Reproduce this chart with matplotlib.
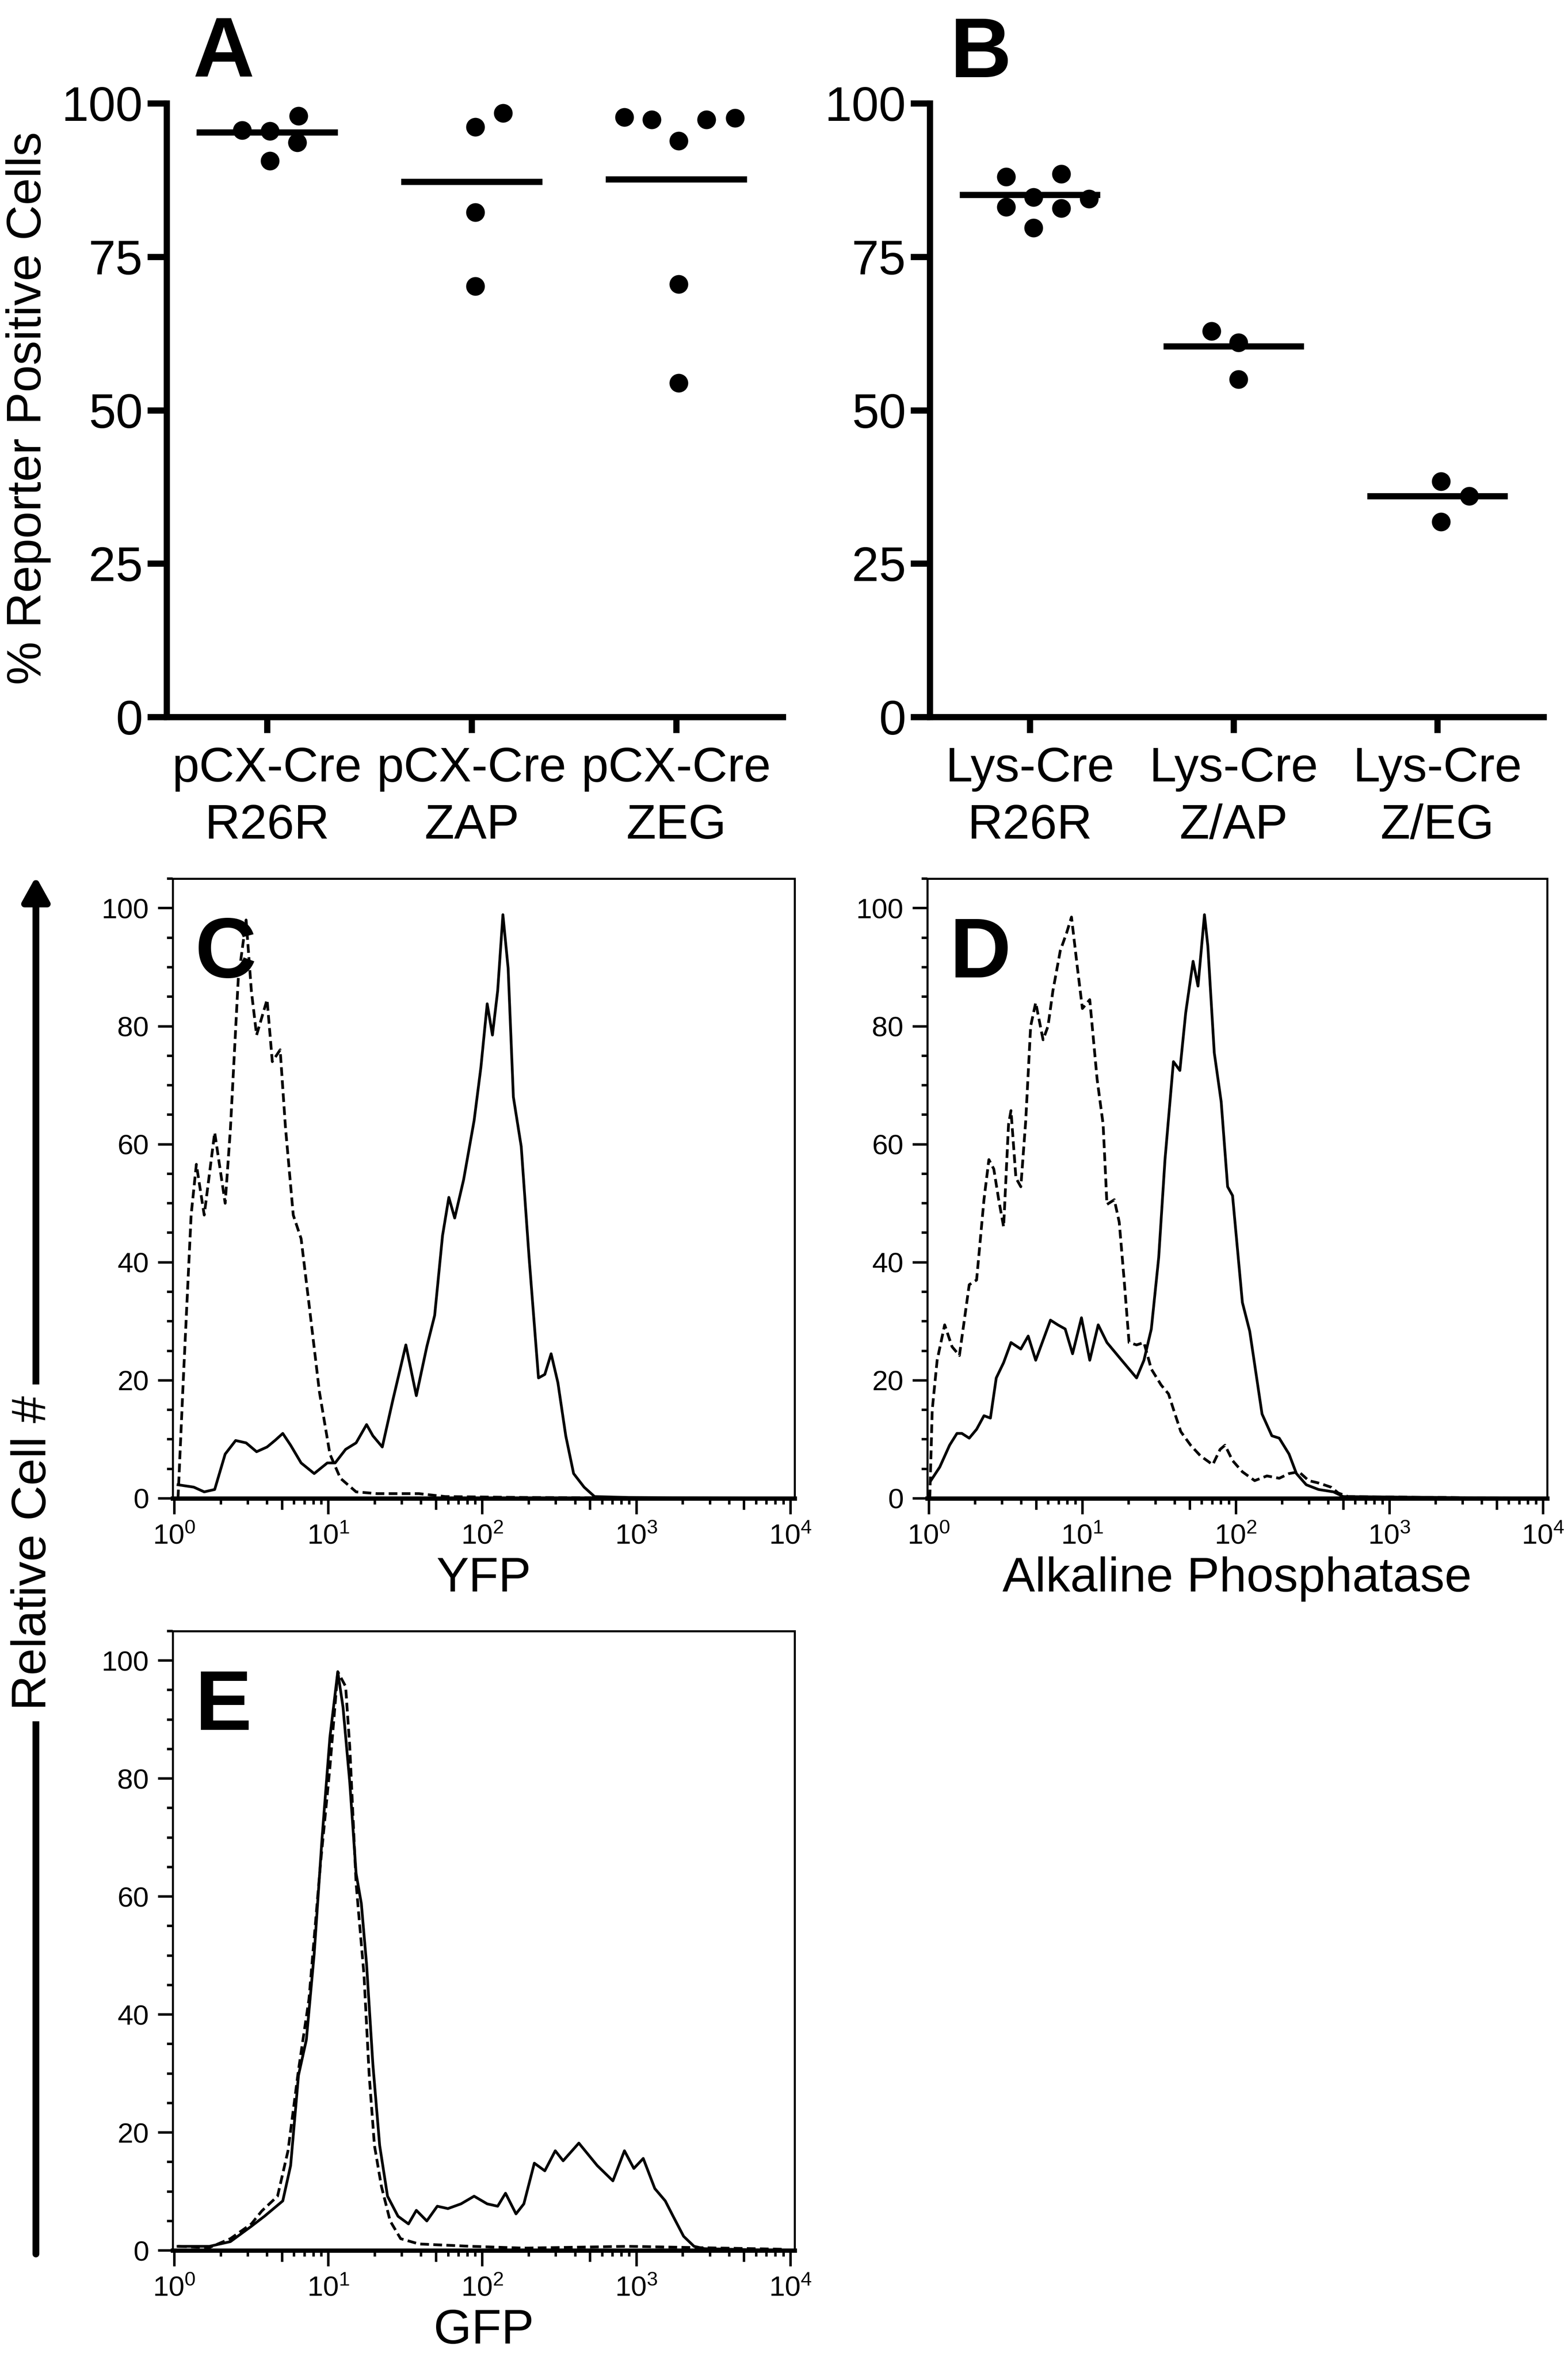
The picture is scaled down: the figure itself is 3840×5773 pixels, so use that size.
import numpy as np
import matplotlib.pyplot as plt
from matplotlib.ticker import MultipleLocator, FixedLocator, NullLocator, LogLocator
from matplotlib.patches import FancyArrowPatch

plt.rcParams['font.family'] = ['Liberation Sans', 'DejaVu Sans']
plt.rcParams['mathtext.fontset'] = 'custom'
plt.rcParams['mathtext.rm'] = 'Liberation Sans'
plt.rcParams['mathtext.it'] = 'Liberation Sans:italic'
plt.rcParams['mathtext.bf'] = 'Liberation Sans:bold'

# ---- panel A / B : % reporter positive cells ----
groups_a = ['pCX-Cre\nR26R', 'pCX-Cre\nZAP', 'pCX-Cre\nZEG']
values_a = [[95.6, 95.5, 97.9, 93.6, 90.6],
            [96.1, 98.4, 82.2, 70.2],
            [97.7, 97.3, 93.9, 97.3, 97.6, 70.5, 54.4]]
means_a = [95.3, 87.2, 87.6]
jitter_a = [[-0.123, 0.013, 0.154, 0.148, 0.013],
            [0.018, 0.154, 0.018, 0.018],
            [-0.253, -0.120, 0.013, 0.148, 0.287, 0.013, 0.013]]

groups_b = ['Lys-Cre\nR26R', 'Lys-Cre\nZ/AP', 'Lys-Cre\nZ/EG']
values_b = [[88.0, 88.5, 84.7, 84.4, 83.1, 82.9, 79.7],
            [62.9, 61.0, 55.0],
            [38.4, 36.0, 31.8]]
means_b = [85.1, 60.4, 36.0]
jitter_b = [[-0.116, 0.155, 0.017, 0.29, -0.116, 0.155, 0.017],
            [-0.109, 0.024, 0.024],
            [0.019, 0.157, 0.019]]

yticks_ab = [0, 25, 50, 75, 100]

# ---- histograms (x given as log10 of fluorescence) ----
c_ctrl_lx = [0.024, 0.058, 0.109, 0.143, 0.194, 0.262, 0.330, 0.364, 0.415, 0.466, 0.500, 0.534,
             0.602, 0.636, 0.687, 0.721, 0.772, 0.823, 0.874, 0.942, 1.010, 1.078, 1.180, 1.316,
             1.588, 1.759, 2.269, 3.969]
c_ctrl_y = [0, 20, 48, 56.6, 48, 62, 50, 62.6, 88, 98, 86, 78.5,
            84.5, 74, 76, 63, 48, 44, 33, 18, 7.5, 3.4, 1.1, 0.8,
            0.8, 0.3, 0.15, 0]
c_cre_lx = [0.024, 0.126, 0.194, 0.262, 0.330, 0.398, 0.466, 0.534, 0.602, 0.653, 0.704, 0.755,
            0.823, 0.908, 0.993, 1.044, 1.112, 1.180, 1.248, 1.289, 1.350, 1.418, 1.503, 1.571,
            1.639, 1.690, 1.741, 1.782, 1.820, 1.878, 1.946, 1.990, 2.031, 2.065, 2.099, 2.133,
            2.167, 2.201, 2.252, 2.303, 2.364, 2.405, 2.446, 2.490, 2.541, 2.592, 2.660, 2.728,
            2.949, 3.969]
c_cre_y = [2.3, 1.9, 1.1, 1.5, 7.5, 9.8, 9.4, 7.9, 8.7, 9.8, 11, 9,
           6, 4.2, 6, 6, 8.3, 9.4, 12.5, 10.6, 8.7, 16.6, 26, 17.4,
           25.7, 31, 44.5, 51, 47.5, 54, 64, 73, 83.8, 78.5, 86, 98.9,
           89.8, 68, 59.6, 40.8, 20.4, 21, 24.5, 19.6, 10.6, 4.2, 1.9, 0.3,
           0.15, 0]

d_ctrl_lx = [0.006, 0.022, 0.054, 0.103, 0.151, 0.199, 0.263, 0.311, 0.359, 0.391, 0.423, 0.455,
             0.487, 0.519, 0.535, 0.567, 0.599, 0.631, 0.663, 0.696, 0.744, 0.776, 0.808, 0.856,
             0.897, 0.929, 0.968, 1.000, 1.048, 1.096, 1.135, 1.160, 1.208, 1.240, 1.272, 1.304,
             1.353, 1.401, 1.449, 1.513, 1.561, 1.593, 1.641, 1.705, 1.769, 1.849, 1.897, 1.929,
             1.978, 2.042, 2.122, 2.202, 2.282, 2.346, 2.410, 2.474, 2.538, 2.619, 2.667, 2.731,
             3.949]
d_ctrl_y = [0, 15, 23.4, 29.4, 25.7, 24.2, 36.2, 37, 50.6, 57.4, 55.8, 50.6,
            46, 63.4, 65.7, 54.3, 52.8, 64, 80, 84, 77.7, 80, 86, 92.8,
            95.8, 98.5, 89.8, 83, 84.5, 71, 63.4, 49.8, 50.6, 46.8, 37, 26.4,
            26, 26.4, 21.9, 19.2, 17.7, 15.1, 11.3, 9, 7.2, 5.7, 8.3, 9,
            6.4, 4.5, 3, 3.8, 3.4, 4.2, 4.5, 3, 2.6, 1.9, 0.9, 0.3,
            0]
d_cre_lx = [0.013, 0.071, 0.135, 0.183, 0.215, 0.263, 0.311, 0.359, 0.401, 0.439, 0.487, 0.535,
            0.599, 0.647, 0.696, 0.744, 0.792, 0.840, 0.888, 0.936, 0.994, 1.048, 1.103, 1.160,
            1.256, 1.353, 1.401, 1.449, 1.497, 1.538, 1.593, 1.635, 1.673, 1.721, 1.753, 1.795,
            1.817, 1.859, 1.904, 1.946, 1.978, 2.042, 2.090, 2.170, 2.234, 2.282, 2.346, 2.394,
            2.458, 2.538, 2.635, 2.699, 3.949]
d_cre_y = [3, 5.3, 9, 11, 11, 10.2, 11.7, 14, 13.6, 20.4, 23, 26.4,
           25.3, 27.5, 23.4, 26.8, 30.2, 29.4, 28.7, 24.5, 30.6, 23.4, 29.4, 26.4,
           23.4, 20.4, 23.4, 28.7, 40.8, 57.4, 74, 72.5, 82.3, 91, 86.8, 98.9,
           93.6, 75.5, 67.2, 52.8, 51.3, 33.2, 28.3, 14.3, 10.6, 10.2, 7.5, 4.2,
           2.3, 1.5, 1.1, 0.3, 0]

e_ctrl_lx = [0.024, 0.228, 0.364, 0.500, 0.568, 0.670, 0.738, 0.806, 0.874, 0.949, 1.010, 1.061,
             1.112, 1.139, 1.180, 1.231, 1.265, 1.299, 1.344, 1.401, 1.469, 1.588, 1.929, 2.269,
             2.949, 3.969]
e_ctrl_y = [0.7, 0.5, 2, 4.5, 6.7, 9.2, 16.9, 30.6, 42.6, 65.6, 81.9, 98.1,
            95.6, 85.3, 62.2, 46.8, 29.7, 17.8, 10.9, 5, 2, 1.1, 0.7, 0.4,
            0.7, 0.2]
e_cre_lx = [0.024, 0.228, 0.364, 0.500, 0.585, 0.704, 0.755, 0.806, 0.857, 0.908, 0.959, 1.010,
            1.061, 1.095, 1.139, 1.180, 1.214, 1.248, 1.289, 1.333, 1.384, 1.452, 1.520, 1.571,
            1.639, 1.707, 1.776, 1.861, 1.946, 2.031, 2.099, 2.150, 2.218, 2.269, 2.337, 2.405,
            2.473, 2.524, 2.626, 2.745, 2.847, 2.922, 2.983, 3.044, 3.119, 3.187, 3.238, 3.306,
            3.374, 3.442, 3.969]
e_cre_y = [0.7, 0.7, 1.5, 4.1, 5.8, 8.4, 14.4, 29.7, 35.7, 50.3, 69.9, 87,
           98.1, 92.1, 79.3, 63.9, 58.8, 48.5, 31.5, 17.8, 9.2, 5.8, 4.5, 6.8,
           5, 7.5, 7.1, 7.9, 9.2, 7.9, 7.5, 9.7, 6.2, 7.9, 14.8, 13.5,
           16.9, 15.2, 18.2, 14.4, 11.8, 16.9, 13.9, 15.6, 10.5, 8.4, 5.8, 2.4,
           0.7, 0.3, 0]

hist_yticks = [0, 20, 40, 60, 80, 100]

fig = plt.figure(figsize=(19.2, 28.865), dpi=200)

BIG = 43
SMALL = 25
LETTER = 75


def dot_panel(rect, groups, values, jitter, means, letter, letter_x):
    ax = fig.add_axes(rect)
    for i, (vals, jit) in enumerate(zip(values, jitter)):
        ax.plot(i + np.array(jit), vals, 'o', ms=16.5, color='black',
                mec='none', clip_on=False, zorder=3)
        ax.hlines(means[i], i - 0.345, i + 0.345, color='black', lw=5.5, zorder=2)
    ax.set_xlim(-0.491, 2.521)
    ax.set_ylim(0, 100)
    ax.set_xticks(range(len(groups)))
    ax.set_xticklabels(groups, fontsize=BIG, linespacing=1.33)
    ax.set_yticks(yticks_ab)
    ax.set_yticklabels([str(t) for t in yticks_ab], fontsize=BIG)
    for s in ['top', 'right']:
        ax.spines[s].set_visible(False)
    for s in ['left', 'bottom']:
        ax.spines[s].set_linewidth(5.5)
    ax.tick_params(axis='y', length=17, width=5.5, pad=4)
    ax.tick_params(axis='x', length=14, width=5.5, pad=12)
    fig.text(letter_x, 0.9935, letter, fontsize=LETTER, fontweight='bold',
             ha='left', va='top')
    return ax


ax_a = dot_panel([0.1063, 0.6958, 0.3929, 0.2604], groups_a, values_a, jitter_a, means_a, 'A', 0.1230)
ax_b = dot_panel([0.5930, 0.6958, 0.3913, 0.2604], groups_b, values_b, jitter_b, means_b, 'B', 0.6060)
fig.text(0.0182, 0.8268, '% Reporter Positive Cells', fontsize=BIG, rotation=90,
         ha='center', va='center')


def hist_panel(rect, ctrl_lx, ctrl_y, cre_lx, cre_y, xlabel, letter):
    ax = fig.add_axes(rect)
    ax.set_xscale('log')
    ax.plot(10 ** np.array(ctrl_lx), ctrl_y, color='black', lw=2.4,
            linestyle=(0, (3.2, 1.6)), zorder=3)
    ax.plot(10 ** np.array(cre_lx), cre_y, color='black', lw=2.4, zorder=3)
    ax.set_xlim(10 ** -0.01, 10 ** 4.027)
    ax.set_ylim(0, 105)
    ax.xaxis.set_major_locator(LogLocator(base=10, numticks=10))
    ax.xaxis.set_minor_locator(LogLocator(base=10, subs=[2, 3, 4, 6, 7, 8, 9], numticks=20))
    ax.yaxis.set_major_locator(FixedLocator(hist_yticks))
    ax.yaxis.set_minor_locator(MultipleLocator(5))
    for s in ['top', 'right', 'left']:
        ax.spines[s].set_linewidth(1.8)
    ax.spines['bottom'].set_linewidth(3.8)
    ax.tick_params(axis='both', which='major', labelsize=SMALL, width=2.2)
    ax.tick_params(axis='y', which='major', length=13, pad=8)
    ax.tick_params(axis='y', which='minor', length=5, width=2.2)
    ax.tick_params(axis='x', which='major', length=14, pad=8)
    ax.tick_params(axis='x', which='minor', length=5.5, width=2.2)
    sec = ax.secondary_xaxis('bottom')
    sec.set_xticks([5, 50, 500, 5000])
    sec.xaxis.set_minor_locator(NullLocator())
    sec.tick_params(axis='x', length=10, width=2.2, labelbottom=False)
    sec.spines['bottom'].set_visible(False)
    ax.set_xlabel(xlabel, fontsize=BIG, labelpad=6)
    ax.text(0.036, 0.94, letter, transform=ax.transAxes, fontsize=LETTER,
            fontweight='bold', ha='left', va='top', zorder=2)
    return ax


hist_panel([0.1102, 0.3643, 0.3966, 0.2629], c_ctrl_lx, c_ctrl_y, c_cre_lx, c_cre_y, 'YFP', 'C')
hist_panel([0.5914, 0.3643, 0.3953, 0.2629], d_ctrl_lx, d_ctrl_y, d_cre_lx, d_cre_y,
           'Alkaline Phosphatase', 'D')
hist_panel([0.1102, 0.0452, 0.3966, 0.2628], e_ctrl_lx, e_ctrl_y, e_cre_lx, e_cre_y, 'GFP', 'E')

# shared "Relative Cell #" arrow
arrow = FancyArrowPatch((0.0229, 0.0437), (0.0229, 0.6281), transform=fig.transFigure,
                        arrowstyle='-|>,head_length=1.8,head_width=1.0', mutation_scale=10,
                        lw=6, color='black', shrinkA=0, shrinkB=0)
fig.patches.append(arrow)
fig.text(0.0211, 0.3412, 'Relative Cell #', fontsize=BIG, rotation=90, ha='center',
         va='center', bbox=dict(facecolor='white', edgecolor='none', pad=10))

fig.savefig('out.png', dpi=200)
